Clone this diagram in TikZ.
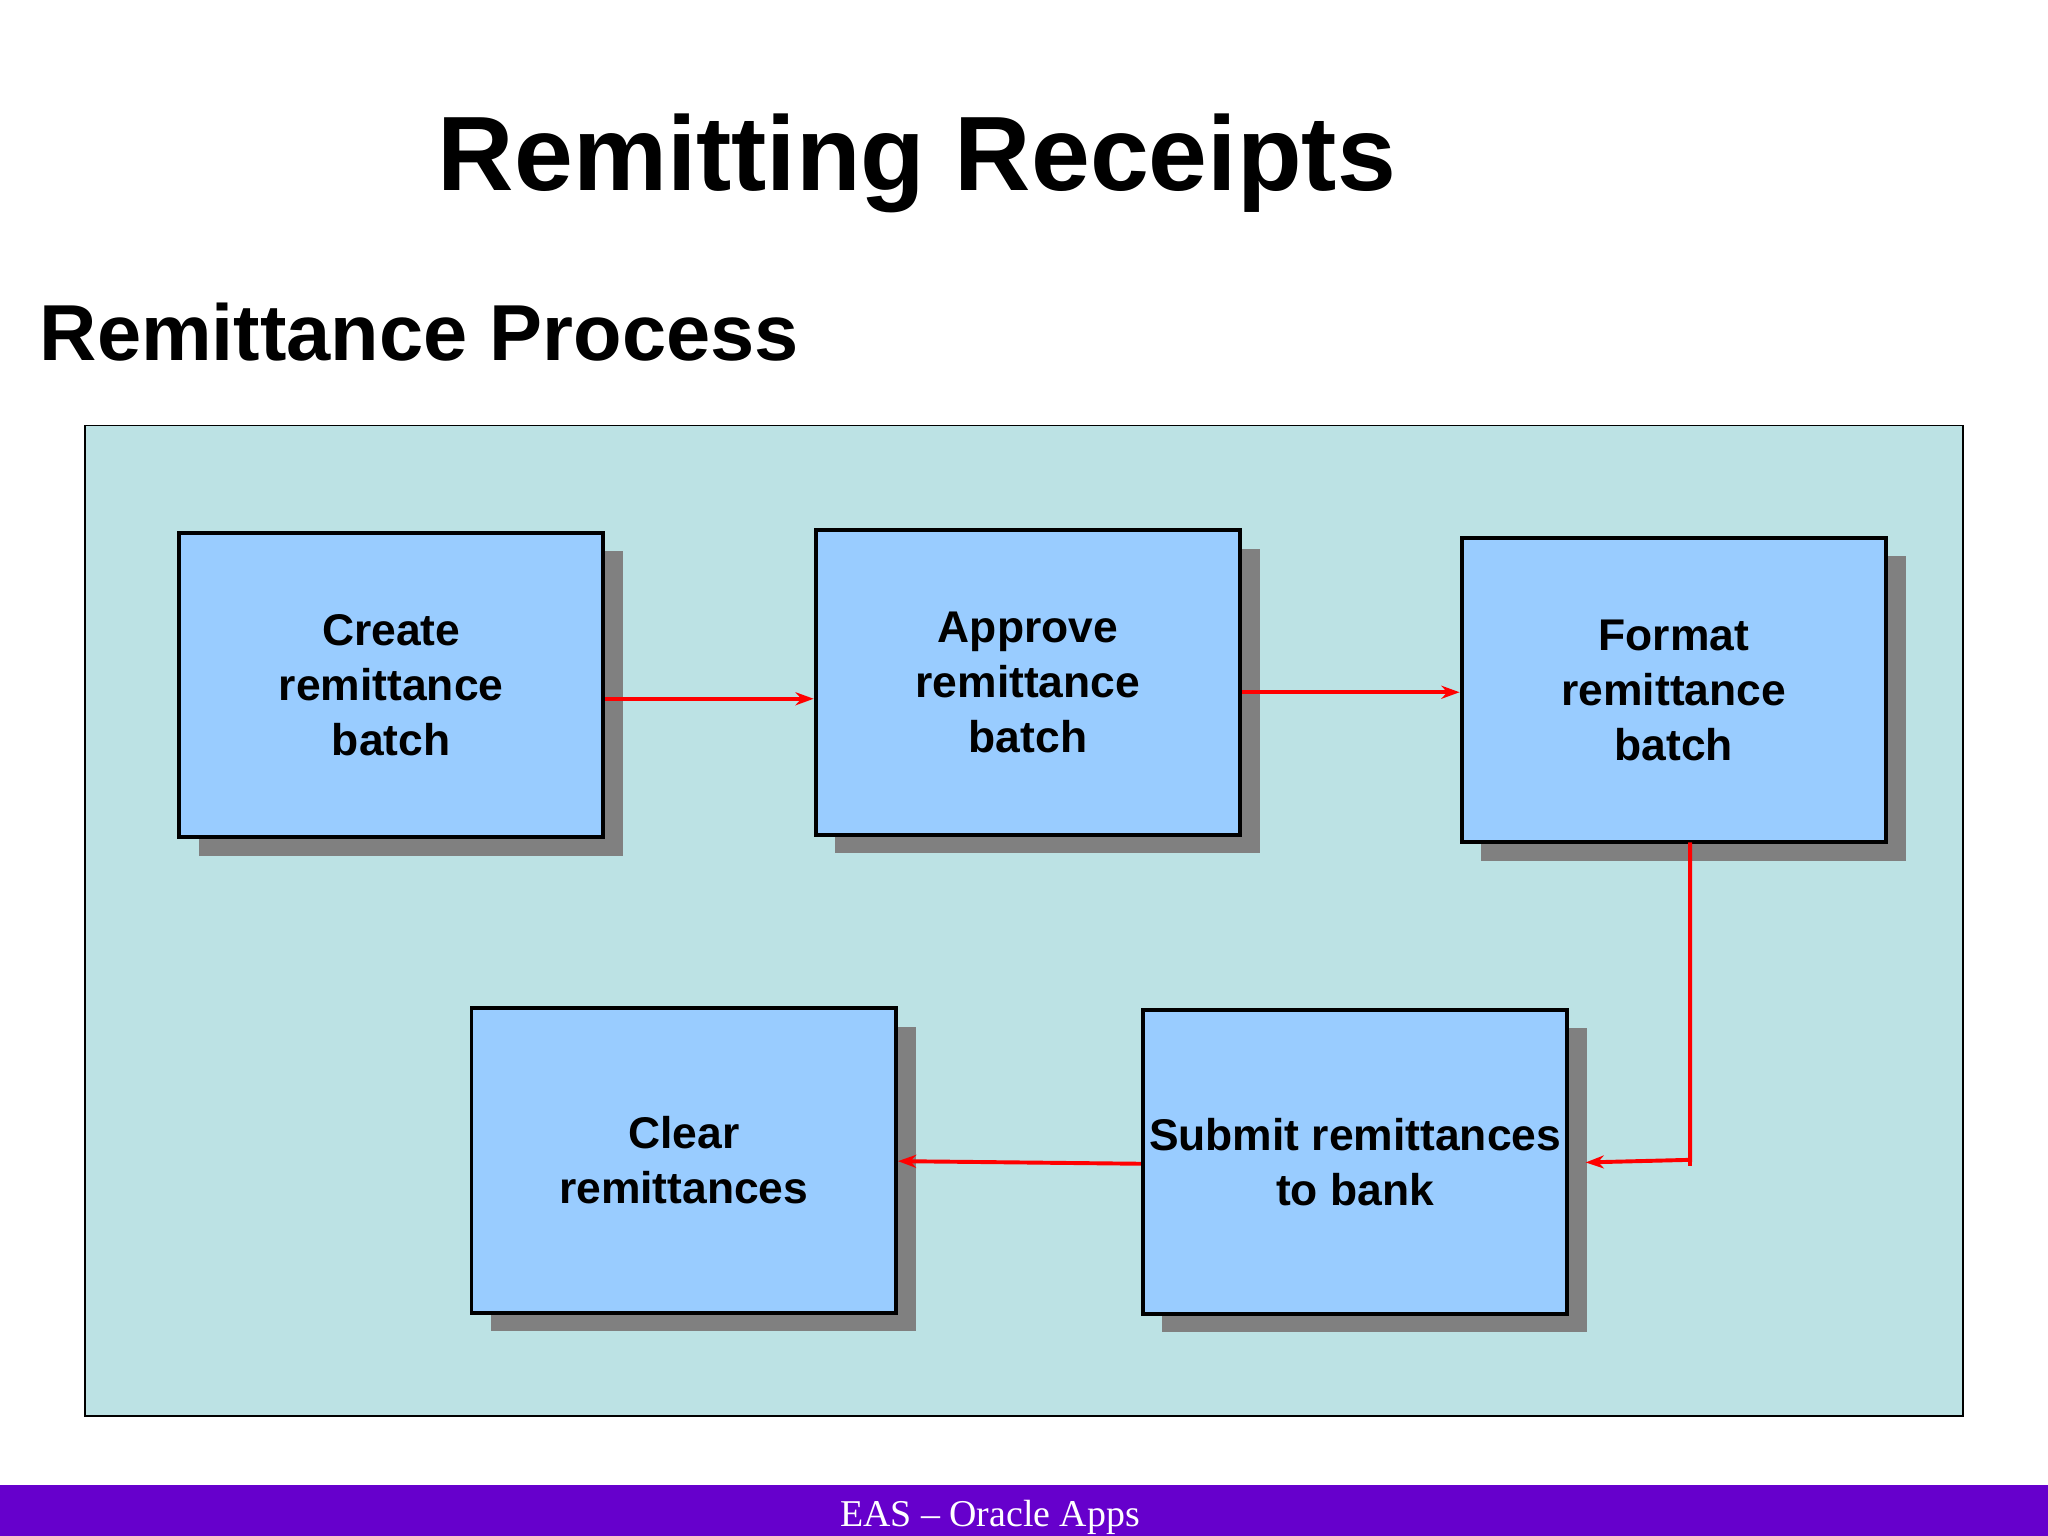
\documentclass[tikz,border=0pt]{standalone}
\usepackage{fontspec}
\setmainfont{Liberation Sans}
\newfontfamily\seriff{Liberation Serif}
\usetikzlibrary{arrows.meta,positioning}
\definecolor{panel}{HTML}{BCE2E4}
\definecolor{boxc}{HTML}{99CCFF}
\definecolor{bar}{HTML}{6600CC}
\begin{document}
\begin{tikzpicture}[x=0.5pt,y=-0.5pt,
  box/.style={draw=black,line width=1.5pt,fill=boxc,minimum width=162.5pt,minimum height=116.5pt,align=center,font=\fontsize{17}{21}\selectfont\bfseries,inner sep=0pt,
    preaction={fill=black!50,draw=none,transform canvas={xshift=7.5pt,yshift=-7pt}}},
  arr/.style={draw=red,line width=1.5pt,-{Stealth[length=7pt,width=5pt]}}]
\useasboundingbox (0,0) rectangle (1568,1176);
\node[font=\fontsize{40.5}{46}\selectfont\bfseries] (title) at (702,125) {Remitting Receipts};
\node[font=\fontsize{30.4}{36}\selectfont\bfseries,anchor=base west,inner sep=0pt] (sub) at (30,276) {Remittance Process};
\draw[fill=panel,line width=0.5pt] (65,326) rectangle (1503,1084);
\node[box] (c) at (299.5,524.5) {Create\\remittance\\batch};
\node[box] (a) at (787,522.5) {Approve\\remittance\\batch};
\node[box] (f) at (1281.5,528.5) {Format\\remittance\\batch};
\node[box] (cl) at (523.5,888.5) {Clear\\remittances};
\node[box] (s) at (1037.5,889.5) {Submit remittances\\to bank};
\draw[arr] (c.east |- 0,535) -- (a.west |- 0,535);
\draw[arr] (a.east |- 0,530) -- (f.west |- 0,530);
\coordinate (k) at (1294,888);
\draw[arr] (1294,645) -- (k) -- (1214,890);
\draw[red,line width=1.5pt] (1294,885) -- (1294,893);
\draw[arr] (s.west |- 0,891) -- (cl.east |- 0,889);
\fill[bar] (0,1137) rectangle (1568,1176);
\node[text=white,font=\seriff\fontsize{14.5}{16}\selectfont] (foot) at (758,1162) {EAS – Oracle Apps};
\end{tikzpicture}
\end{document}
